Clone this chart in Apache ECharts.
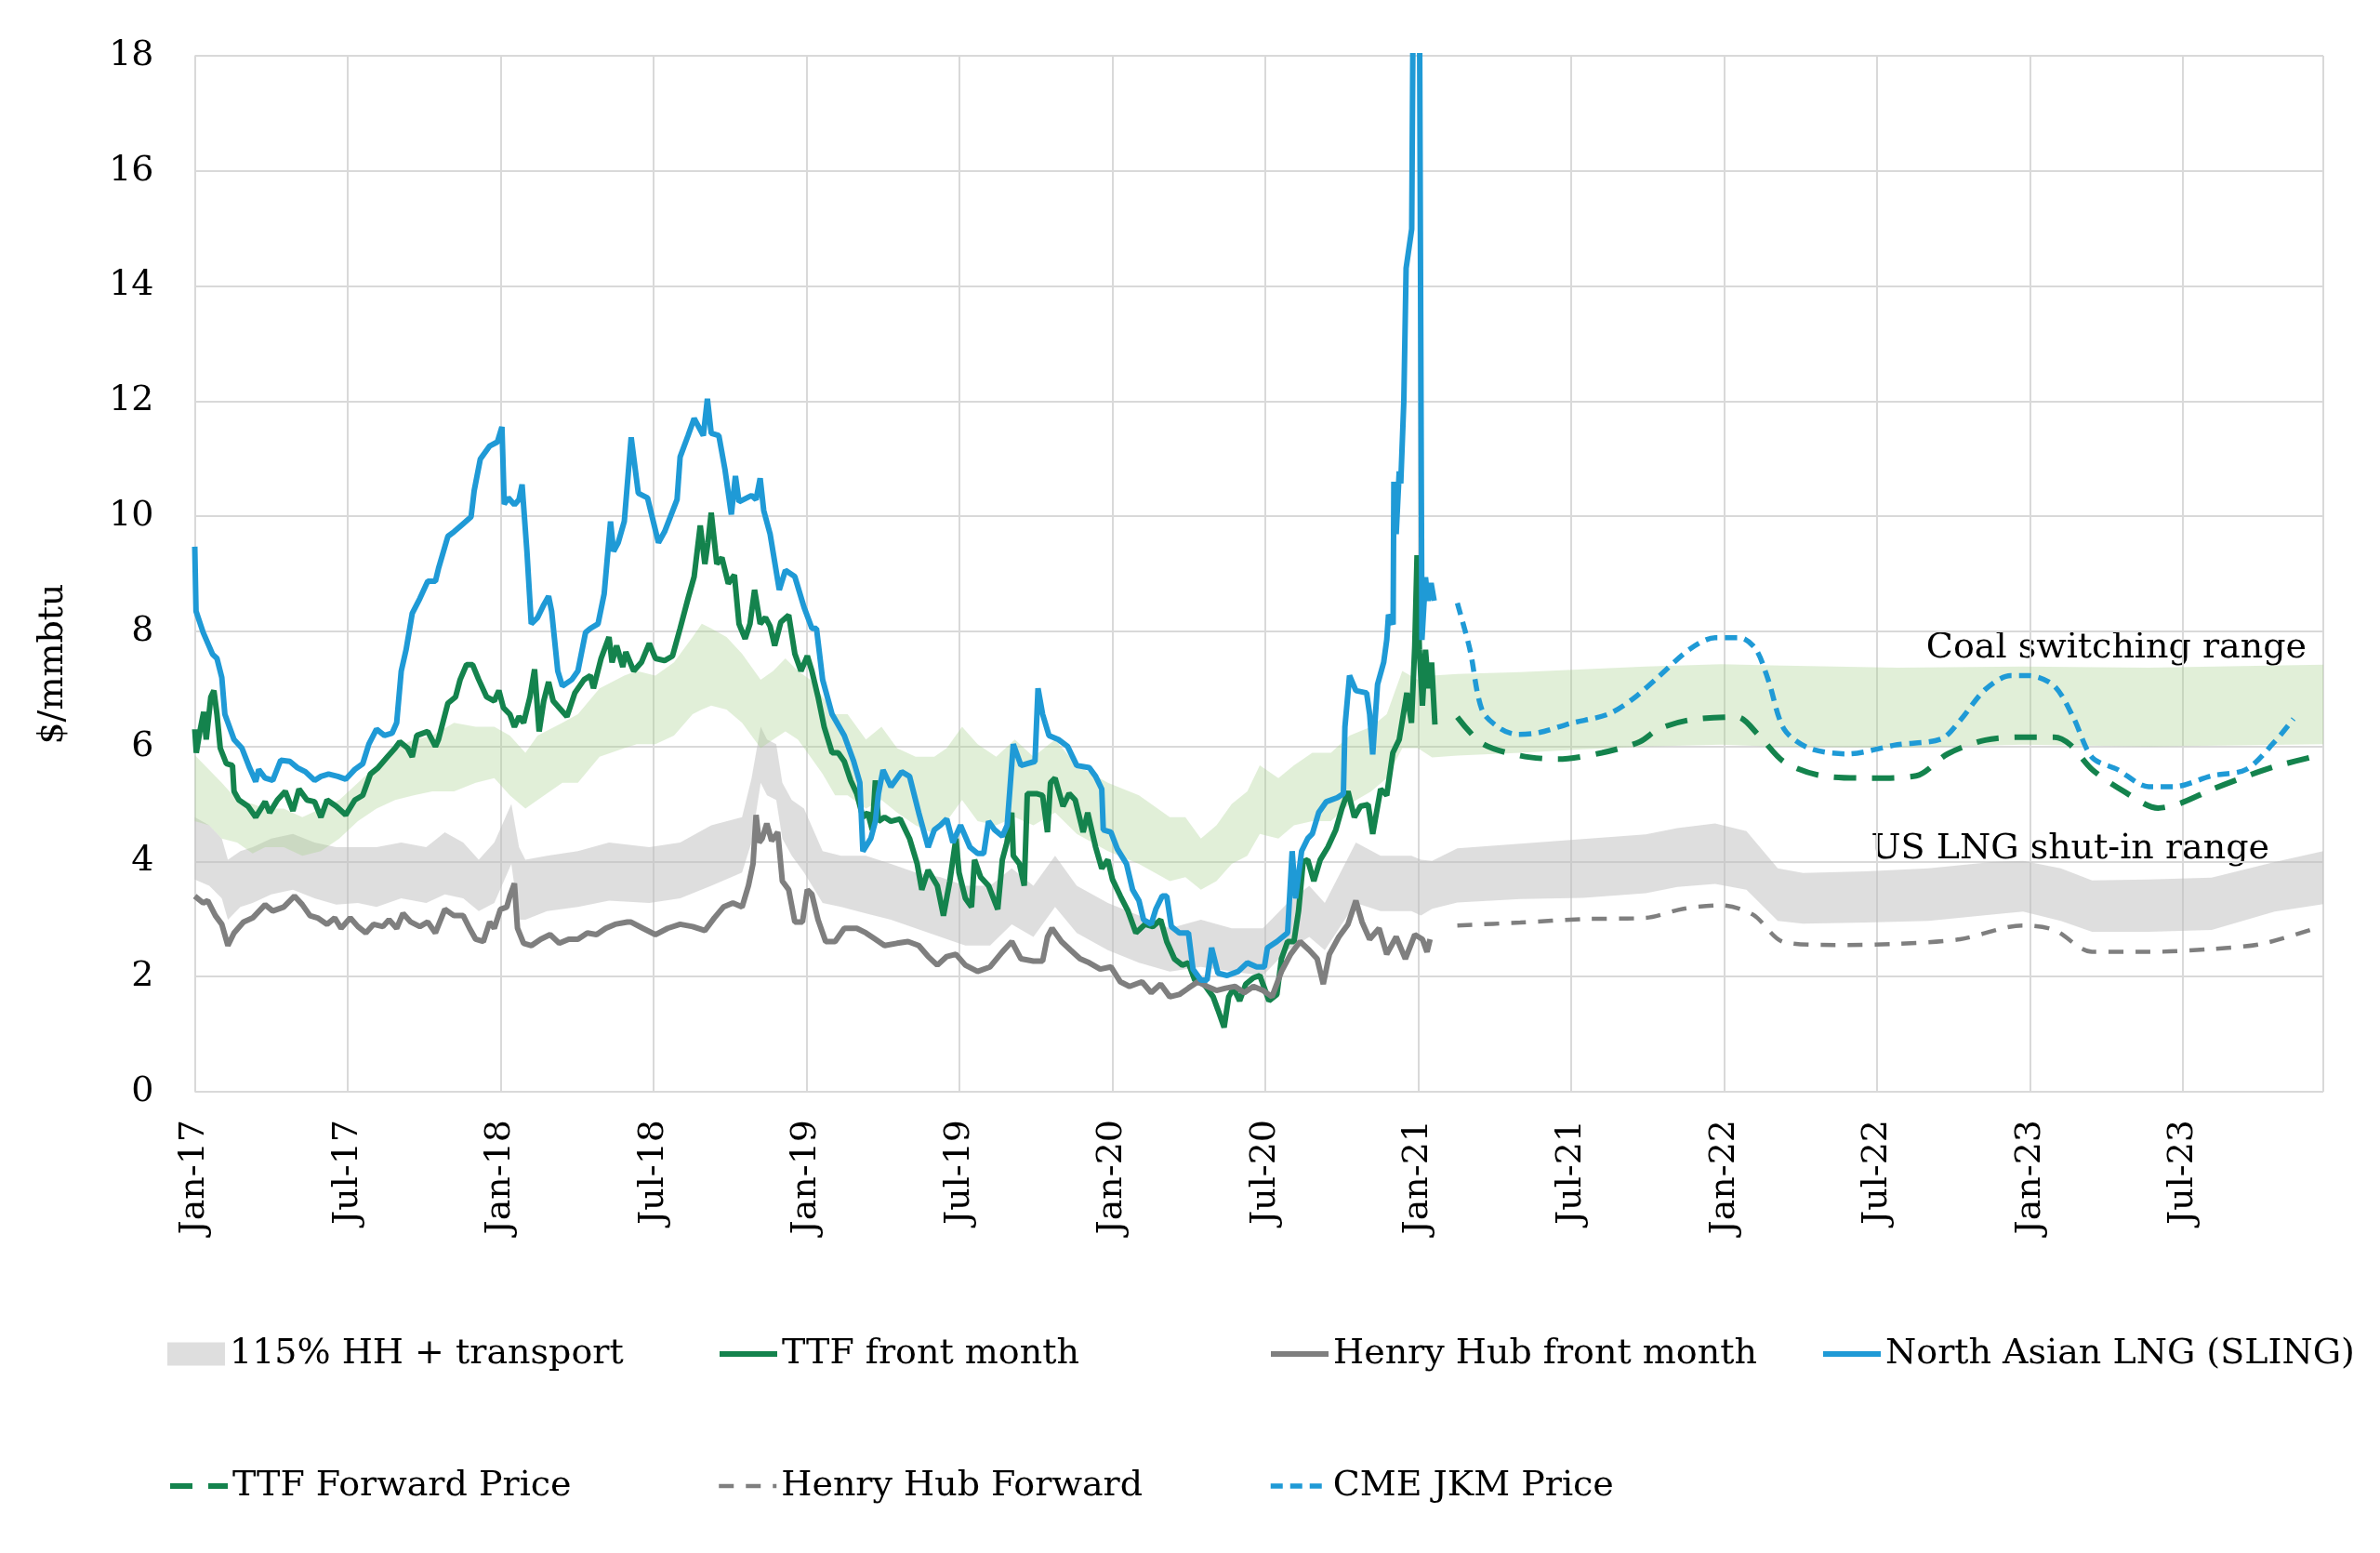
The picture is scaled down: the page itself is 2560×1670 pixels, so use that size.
<!DOCTYPE html>
<html>
<head>
<meta charset="utf-8">
<script src="https://cdn.jsdelivr.net/npm/echarts@6/dist/echarts.min.js"></script>
<style>
html,body{margin:0;padding:0;background:#fff;}
#chart{width:2560px;height:1670px;}
</style>
</head>
<body>
<div id="chart"></div>
<script>
// x values are months since Jan-2017 (0 = Jan-17)
const xTickLabels = ['Jan-17','Jul-17','Jan-18','Jul-18','Jan-19','Jul-19','Jan-20','Jul-20','Jan-21','Jul-21','Jan-22','Jul-22','Jan-23','Jul-23'];

const slingFront = [[0,9.47],[0.05,8.35],[0.33,7.98],[0.7,7.6],[0.87,7.53],[1.06,7.2],[1.18,6.56],[1.54,6.12],[1.85,5.97],[2.15,5.63],[2.39,5.39],[2.51,5.6],[2.76,5.45],[3.06,5.41],[3.37,5.76],[3.73,5.74],[4.03,5.63],[4.34,5.56],[4.7,5.41],[4.95,5.48],[5.25,5.52],[5.61,5.48],[5.92,5.43],[6.28,5.6],[6.59,5.7],[6.83,6.04],[7.13,6.3],[7.44,6.19],[7.74,6.23],[7.92,6.41],[8.1,7.31],[8.29,7.68],[8.53,8.31],[8.83,8.57],[9.14,8.87],[9.44,8.87],[9.56,9.09],[9.93,9.65],[10.17,9.73],[10.53,9.87],[10.84,9.99],[10.96,10.44],[11.2,10.99],[11.57,11.22],[11.87,11.29],[12.05,11.55],[12.14,10.21],[12.3,10.32],[12.54,10.2],[12.72,10.29],[12.84,10.55],[13.03,9.39],[13.2,8.13],[13.45,8.24],[13.69,8.46],[13.88,8.61],[14.0,8.35],[14.24,7.31],[14.42,7.05],[14.79,7.16],[15.03,7.31],[15.33,7.98],[15.52,8.05],[15.82,8.13],[16.06,8.65],[16.31,9.91],[16.43,9.39],[16.61,9.54],[16.85,9.91],[17.12,11.37],[17.4,10.4],[17.76,10.32],[18.19,9.54],[18.43,9.73],[18.92,10.29],[19.04,11.03],[19.35,11.4],[19.59,11.7],[19.95,11.4],[20.11,12.04],[20.26,11.44],[20.56,11.4],[20.8,10.81],[21.05,10.03],[21.21,10.7],[21.35,10.25],[21.84,10.36],[22.02,10.29],[22.18,10.66],[22.32,10.1],[22.57,9.69],[22.93,8.72],[23.17,9.06],[23.54,8.95],[23.9,8.42],[24.21,8.05],[24.39,8.05],[24.63,7.16],[25.0,6.56],[25.48,6.19],[25.85,5.74],[26.09,5.37],[26.21,4.18],[26.52,4.4],[26.7,4.7],[26.82,5.18],[27.0,5.59],[27.31,5.3],[27.73,5.56],[28.04,5.48],[28.4,4.85],[28.77,4.25],[29.01,4.55],[29.25,4.63],[29.5,4.74],[29.74,4.33],[30.04,4.63],[30.41,4.25],[30.71,4.14],[30.95,4.14],[31.14,4.7],[31.38,4.55],[31.68,4.44],[31.87,4.63],[32.11,6.04],[32.41,5.67],[32.96,5.74],[33.08,7.01],[33.26,6.56],[33.51,6.19],[33.88,6.12],[34.24,6.0],[34.6,5.67],[35.09,5.63],[35.34,5.48],[35.58,5.26],[35.64,4.55],[35.94,4.51],[36.19,4.22],[36.55,3.96],[36.79,3.51],[37.04,3.32],[37.22,2.99],[37.52,2.91],[37.7,3.17],[37.95,3.4],[38.13,3.4],[38.31,2.87],[38.62,2.76],[38.98,2.76],[39.16,2.13],[39.47,1.94],[39.71,1.94],[39.89,2.5],[40.14,2.06],[40.5,2.02],[40.93,2.09],[41.29,2.24],[41.66,2.17],[41.96,2.17],[42.08,2.5],[42.45,2.61],[42.87,2.76],[43.05,4.18],[43.18,3.36],[43.42,4.18],[43.66,4.4],[43.84,4.48],[44.09,4.85],[44.39,5.04],[44.82,5.11],[45.06,5.18],[45.12,6.34],[45.3,7.23],[45.55,6.97],[45.97,6.93],[46.09,6.56],[46.21,5.86],[46.4,7.08],[46.64,7.46],[46.76,7.85],[46.83,8.29],[47.01,8.12],[47.04,10.6],[47.13,9.69],[47.25,10.78],[47.31,10.57],[47.43,12.0],[47.52,14.31],[47.74,14.99],[47.95,30],[48.14,7.85],[48.28,8.94],[48.38,8.53],[48.5,8.84],[48.62,8.53]];

const ttfFront = [[0,6.3],[0.06,5.89],[0.2,6.26],[0.35,6.6],[0.45,6.12],[0.63,6.86],[0.75,6.97],[0.87,6.56],[1.0,5.97],[1.24,5.7],[1.48,5.67],[1.54,5.22],[1.73,5.07],[2.09,4.96],[2.39,4.77],[2.76,5.04],[2.94,4.85],[3.24,5.07],[3.55,5.22],[3.85,4.88],[4.09,5.26],[4.4,5.07],[4.7,5.04],[4.95,4.77],[5.19,5.07],[5.55,4.96],[5.92,4.81],[6.28,5.07],[6.59,5.15],[6.89,5.52],[7.19,5.63],[7.56,5.82],[7.86,5.97],[8.04,6.08],[8.35,5.97],[8.53,5.82],[8.71,6.19],[9.14,6.26],[9.44,6.0],[9.56,6.12],[9.93,6.75],[10.23,6.86],[10.41,7.16],[10.66,7.42],[10.9,7.42],[11.14,7.16],[11.45,6.86],[11.75,6.79],[11.93,6.97],[12.11,6.67],[12.36,6.56],[12.54,6.34],[12.72,6.52],[12.9,6.41],[13.15,6.86],[13.33,7.34],[13.51,6.26],[13.69,6.79],[13.88,7.12],[14.06,6.79],[14.3,6.67],[14.6,6.52],[14.91,6.93],[15.27,7.16],[15.52,7.23],[15.64,7.01],[15.94,7.53],[16.25,7.9],[16.37,7.46],[16.55,7.75],[16.79,7.38],[16.91,7.64],[17.22,7.31],[17.52,7.46],[17.83,7.79],[18.07,7.53],[18.43,7.49],[18.74,7.57],[19.04,8.05],[19.35,8.57],[19.59,8.95],[19.83,9.84],[20.01,9.17],[20.13,9.54],[20.26,10.06],[20.48,9.17],[20.68,9.28],[20.93,8.83],[21.17,8.98],[21.35,8.13],[21.59,7.87],[21.78,8.13],[21.96,8.72],[22.18,8.13],[22.39,8.24],[22.57,8.09],[22.75,7.75],[22.99,8.16],[23.3,8.28],[23.54,7.61],[23.78,7.31],[24.03,7.57],[24.21,7.31],[24.45,6.86],[24.69,6.34],[25.0,5.89],[25.24,5.89],[25.48,5.74],[25.73,5.41],[25.97,5.18],[26.21,4.77],[26.4,4.85],[26.58,4.55],[26.7,5.41],[26.82,4.7],[27.06,4.77],[27.31,4.7],[27.67,4.74],[28.04,4.4],[28.34,3.96],[28.52,3.51],[28.77,3.85],[29.13,3.58],[29.37,3.06],[29.62,3.66],[29.86,4.4],[29.98,3.81],[30.23,3.36],[30.47,3.21],[30.59,4.03],[30.83,3.73],[31.14,3.58],[31.5,3.17],[31.68,4.03],[31.86,4.33],[32.05,4.85],[32.11,4.1],[32.35,3.96],[32.54,3.58],[32.66,5.18],[33.02,5.18],[33.26,5.15],[33.45,4.51],[33.57,5.37],[33.75,5.45],[34.06,4.96],[34.3,5.18],[34.54,5.07],[34.85,4.51],[35.03,4.85],[35.34,4.25],[35.58,3.88],[35.82,4.03],[36.0,3.69],[36.31,3.4],[36.61,3.14],[36.92,2.76],[37.28,2.91],[37.58,2.87],[37.89,2.99],[38.13,2.61],[38.43,2.31],[38.74,2.2],[38.98,2.24],[39.23,1.94],[39.59,1.87],[39.95,1.65],[40.14,1.42],[40.38,1.12],[40.56,1.65],[40.75,1.8],[40.99,1.58],[41.23,1.87],[41.53,1.98],[41.78,2.02],[41.96,1.8],[42.14,1.58],[42.45,1.69],[42.63,2.31],[42.87,2.61],[43.12,2.61],[43.3,3.14],[43.48,4.0],[43.66,4.03],[43.9,3.66],[44.15,4.03],[44.45,4.25],[44.76,4.55],[45.0,4.92],[45.24,5.22],[45.49,4.77],[45.73,4.96],[46.03,4.99],[46.21,4.48],[46.52,5.26],[46.76,5.15],[47.0,5.89],[47.25,6.12],[47.55,6.93],[47.73,6.41],[47.86,7.75],[47.95,9.32],[48.04,7.68],[48.16,6.71],[48.28,7.68],[48.4,7.01],[48.52,7.46],[48.65,6.38]];

const henryHubFront = [[0,3.4],[0.33,3.28],[0.51,3.32],[0.81,3.06],[1.06,2.91],[1.3,2.54],[1.54,2.76],[1.91,2.95],[2.27,3.02],[2.76,3.25],[3.06,3.14],[3.49,3.21],[3.91,3.4],[4.22,3.25],[4.52,3.06],[4.82,3.02],[5.19,2.91],[5.49,3.02],[5.74,2.84],[6.1,3.02],[6.4,2.87],[6.71,2.76],[7.01,2.91],[7.38,2.87],[7.62,2.99],[7.92,2.84],[8.17,3.1],[8.47,2.95],[8.83,2.87],[9.14,2.95],[9.44,2.76],[9.81,3.17],[10.17,3.06],[10.53,3.06],[10.78,2.84],[11.02,2.65],[11.32,2.61],[11.57,2.95],[11.75,2.84],[11.99,3.17],[12.24,3.21],[12.36,3.4],[12.54,3.62],[12.66,2.84],[12.9,2.58],[13.21,2.54],[13.57,2.65],[13.94,2.73],[14.3,2.58],[14.67,2.65],[15.03,2.65],[15.4,2.76],[15.76,2.73],[16.12,2.84],[16.49,2.91],[16.97,2.95],[17.1,2.95],[17.58,2.84],[18.07,2.73],[18.55,2.84],[19.04,2.91],[19.53,2.87],[20.01,2.8],[20.38,3.02],[20.74,3.21],[21.11,3.28],[21.47,3.21],[21.72,3.58],[21.9,3.96],[22.02,4.81],[22.14,4.33],[22.26,4.4],[22.44,4.66],[22.63,4.36],[22.87,4.51],[23.05,3.66],[23.3,3.51],[23.54,2.95],[23.84,2.95],[24.03,3.51],[24.21,3.43],[24.45,2.99],[24.75,2.61],[25.12,2.61],[25.48,2.84],[25.97,2.84],[26.33,2.76],[26.7,2.65],[27.06,2.54],[27.55,2.58],[27.98,2.61],[28.4,2.54],[28.77,2.35],[29.13,2.2],[29.5,2.35],[29.86,2.39],[30.23,2.2],[30.71,2.09],[31.2,2.17],[31.68,2.43],[32.05,2.61],[32.41,2.31],[32.9,2.27],[33.26,2.27],[33.45,2.69],[33.63,2.84],[34.0,2.61],[34.36,2.46],[34.73,2.31],[35.09,2.24],[35.52,2.13],[35.94,2.17],[36.31,1.91],[36.67,1.83],[37.16,1.91],[37.52,1.72],[37.89,1.87],[38.25,1.65],[38.62,1.69],[38.98,1.8],[39.35,1.91],[39.71,1.83],[40.08,1.76],[40.44,1.8],[40.81,1.83],[41.17,1.72],[41.53,1.83],[41.9,1.76],[42.26,1.65],[42.63,2.09],[42.99,2.39],[43.36,2.61],[43.72,2.46],[44.03,2.31],[44.27,1.87],[44.51,2.39],[44.88,2.69],[45.24,2.91],[45.55,3.32],[45.79,2.95],[46.09,2.65],[46.46,2.84],[46.76,2.39],[47.13,2.69],[47.49,2.31],[47.86,2.73],[48.16,2.65],[48.34,2.43],[48.46,2.65]];

const ttfForward = [[49.53,6.51],[50.51,6.05],[52.0,5.84],[53.47,5.78],[55.2,5.89],[56.68,6.08],[57.42,6.3],[58.65,6.46],[60.5,6.51],[61.36,6.19],[62.35,5.73],[63.83,5.49],[65.8,5.45],[67.53,5.49],[68.76,5.87],[70.24,6.11],[71.72,6.16],[72.95,6.16],[73.57,6.03],[74.43,5.6],[75.67,5.22],[77.02,4.93],[77.88,5.01],[79.12,5.25],[80.35,5.46],[81.59,5.65],[83.5,5.86]];

const henryHubForward = [[49.53,2.89],[52.0,2.94],[54.46,3.0],[56.92,3.02],[58.4,3.18],[59.88,3.24],[61.12,3.08],[62.35,2.6],[64.32,2.55],[66.79,2.57],[69.25,2.65],[71.72,2.89],[72.95,2.81],[74.43,2.43],[76.65,2.43],[79.12,2.48],[81.09,2.57],[83.19,2.84]];

const jkmForward = [[49.53,8.49],[50.02,7.69],[50.51,6.62],[51.25,6.3],[51.87,6.21],[52.73,6.24],[53.97,6.4],[55.44,6.56],[56.43,6.83],[57.42,7.21],[58.65,7.69],[59.64,7.89],[60.62,7.89],[61.24,7.69],[61.73,7.15],[62.35,6.3],[63.33,5.97],[64.82,5.87],[66.79,6.03],[68.51,6.13],[69.25,6.45],[70.24,6.99],[71.23,7.23],[71.97,7.23],[72.95,7.05],[73.69,6.51],[74.43,5.81],[75.42,5.6],[76.65,5.3],[77.64,5.3],[79.12,5.49],[80.48,5.6],[81.59,6.08],[82.33,6.48]];

// 115% HH + transport (US LNG shut-in range): months, low edge, high edge
const hhBandMonths = [0,0.57,1.06,1.3,1.79,2.27,3.0,3.85,4.7,5.55,6.4,7.13,8.1,9.08,9.81,10.53,11.14,11.75,12.42,12.72,12.97,13.82,15.03,16.25,17.83,19.04,20.26,21.47,21.84,22.2,22.45,22.81,23.05,23.42,23.9,24.63,25.36,26.33,27.31,28.28,29.25,30.23,31.2,32.05,32.9,33.75,34.6,35.82,37.04,38.25,39.47,40.68,41.9,42.87,43.72,44.33,45.55,46.52,47.73,48.1,48.54,49.53,52.0,54.46,56.92,58.16,59.64,60.87,62.1,63.09,65.56,68.02,70.49,71.72,73.2,74.43,76.65,79.12,81.59,83.5];
const hhBandHigh = [4.77,4.63,4.4,4.03,4.18,4.25,4.4,4.48,4.33,4.25,4.25,4.25,4.33,4.25,4.51,4.33,4.03,4.33,5.0,4.25,4.03,4.1,4.18,4.33,4.25,4.33,4.63,4.77,5.44,6.34,6.12,6.04,5.37,5.07,4.92,4.18,4.1,4.1,3.96,3.81,3.73,3.58,3.58,3.88,3.58,4.1,3.58,3.28,3.06,2.84,2.99,2.84,2.84,3.28,3.58,3.28,4.33,4.1,4.1,4.03,4.01,4.23,4.31,4.39,4.47,4.58,4.66,4.53,3.88,3.8,3.83,3.88,3.99,4.01,3.88,3.67,3.69,3.72,3.99,4.18];
const hhBandLow = [3.69,3.58,3.36,2.99,3.21,3.28,3.43,3.51,3.36,3.25,3.28,3.21,3.36,3.28,3.43,3.36,3.14,3.28,3.96,2.99,2.99,3.14,3.21,3.32,3.28,3.36,3.58,3.81,4.33,5.37,5.15,5.07,4.4,4.1,3.81,3.28,3.21,3.1,2.99,2.84,2.69,2.54,2.54,2.91,2.69,3.21,2.76,2.46,2.24,2.09,2.17,2.09,2.02,2.46,2.69,2.46,3.28,3.14,3.14,3.06,3.18,3.29,3.35,3.37,3.45,3.56,3.61,3.51,2.97,2.92,2.94,2.97,3.08,3.13,2.97,2.78,2.78,2.81,3.13,3.26];

// Coal switching range: months, low edge, high edge
const coalBandMonths = [0,0.57,1.06,1.66,2.27,2.76,3.49,4.22,4.95,5.67,6.4,7.13,7.86,8.59,9.32,10.17,11.02,11.75,12.36,12.97,13.45,14.42,15.03,15.88,16.85,17.34,18.07,18.8,19.53,19.89,20.26,20.86,21.47,22.2,22.69,23.17,23.66,24.15,24.63,25.12,25.61,26.33,26.94,27.55,28.28,29.01,29.5,30.1,30.71,31.44,32.17,32.9,33.75,34.6,35.82,37.04,38.25,38.86,39.47,40.08,40.68,41.29,41.78,42.51,43.12,43.84,44.57,45.3,46.15,46.76,47.37,47.98,48.54,49.53,52.0,54.46,56.92,59.88,61.85,66.79,71.72,76.65,83.5];
const coalBandHigh = [5.85,5.59,5.37,5.07,5.0,4.92,4.92,4.77,4.92,5.07,5.37,5.67,5.97,6.12,6.19,6.41,6.34,6.34,6.19,5.89,6.19,6.41,6.56,7.01,7.23,7.31,7.23,7.46,7.9,8.13,8.05,7.9,7.61,7.16,7.31,7.53,7.31,7.16,6.86,6.56,6.56,6.12,6.34,5.97,5.82,5.82,5.97,6.34,6.04,5.82,6.12,5.82,6.12,5.67,5.37,5.15,4.77,4.77,4.4,4.63,5.0,5.22,5.67,5.45,5.67,5.89,5.89,6.19,6.34,6.56,7.31,7.16,7.23,7.26,7.29,7.34,7.39,7.43,7.41,7.37,7.39,7.37,7.42];
const coalBandLow = [4.7,4.63,4.4,4.33,4.14,4.25,4.25,4.1,4.18,4.4,4.7,4.92,5.07,5.15,5.22,5.22,5.37,5.45,5.15,4.92,5.07,5.37,5.37,5.82,5.97,6.04,6.04,6.19,6.56,6.64,6.71,6.64,6.41,5.97,6.12,6.26,6.12,5.82,5.52,5.15,5.15,4.92,5.07,4.85,4.63,4.48,4.7,5.07,4.7,4.63,4.77,4.63,4.85,4.48,4.18,3.96,3.66,3.73,3.51,3.66,3.96,4.1,4.48,4.4,4.63,4.7,4.7,5.0,5.22,5.45,5.97,5.97,5.81,5.84,5.89,5.95,6.0,6.03,6.0,5.98,6.03,6.0,6.04];

const FONT = 'DejaVu Serif';
const C_TTF = '#14834d', C_HH = '#7f7f7f', C_SLING = '#1f9ad6';
const C_HHBAND = 'rgba(190,190,190,0.5)', C_COAL = 'rgba(169,208,142,0.35)';

function bandSeries(name, months, low, high, fill, z) {
  return {
    name: name, type: 'custom', z: z, silent: true,
    itemStyle: { color: fill },
    data: months.map((m, i) => [m, low[i], high[i]]),
    encode: { x: 0, y: [1, 2] },
    renderItem: function (params, api) {
      if (params.dataIndex !== 0) return null;
      const pts = [];
      for (let i = 0; i < months.length; i++) pts.push(api.coord([months[i], high[i]]));
      for (let i = months.length - 1; i >= 0; i--) pts.push(api.coord([months[i], low[i]]));
      return { type: 'polygon', shape: { points: pts }, style: { fill: fill } };
    }
  };
}

const chart = echarts.init(document.getElementById('chart'), null, { renderer: 'canvas', width: 2560, height: 1670 });

const legendText = { fontFamily: FONT, fontSize: 38, color: '#000', lineHeight: 40 };
function legendAt(name, left, top, lineWidth, extra) {
  return Object.assign({
    data: [name], left: left, top: top, padding: 0, itemGap: 0,
    itemWidth: 62, itemHeight: 25, selectedMode: false, textStyle: legendText,
    itemStyle: { color: 'rgba(0,0,0,0)', borderWidth: 0, opacity: 0 },
    lineStyle: { width: lineWidth }
  }, extra || {});
}

const LW = 6;
const option = {
  backgroundColor: '#fff',
  animation: false,
  grid: { left: 209.5, right: 61, top: 60, bottom: 496, containLabel: false, outerBoundsMode: 'none' },
  xAxis: {
    type: 'value', min: 0, max: 83.5, interval: 6,
    axisLine: { show: false }, axisTick: { show: false },
    splitLine: { show: true, lineStyle: { color: '#d9d9d9', width: 2 } },
    axisLabel: {
      rotate: 90, margin: 30, fontFamily: FONT, fontSize: 38, color: '#000',
      formatter: function (v) {
        const i = Math.round(v / 6);
        return Math.abs(v - i * 6) < 1e-6 ? (xTickLabels[i] || '') : '';
      }
    }
  },
  yAxis: {
    type: 'value', min: 0, max: 18, interval: 2,
    axisLine: { show: false }, axisTick: { show: false },
    splitLine: { show: true, lineStyle: { color: '#d9d9d9', width: 2 } },
    axisLabel: { margin: 44, fontFamily: FONT, fontSize: 38, color: '#000' }
  },
  legend: [
    legendAt('115% HH + transport', 180, 1436, 0, {
      data: [{ name: '115% HH + transport', icon: 'rect' }],
      itemStyle: { color: '#dedede', opacity: 1 }
    }),
    legendAt('TTF front month', 771, 1436, 6),
    legendAt('Henry Hub front month', 1364, 1436, 6),
    legendAt('North Asian LNG (SLING)', 1958, 1436, 6),
    legendAt('TTF Forward Price', 180, 1578, 6),
    legendAt('Henry Hub Forward', 771, 1578, 4.5),
    legendAt('CME JKM Price', 1364, 1578, 5.5)
  ],
  graphic: [
    { type: 'text', x: 57, y: 714, rotation: Math.PI / 2,
      style: { text: '$/mmbtu', font: '38px "DejaVu Serif"', fill: '#000', align: 'center', verticalAlign: 'middle' } },
    { type: 'text', x: 2481, y: 697,
      style: { text: 'Coal switching range', font: '38px "DejaVu Serif"', fill: '#000', align: 'right', verticalAlign: 'middle' } },
    { type: 'text', x: 2441, y: 913,
      style: { text: 'US LNG shut-in range', font: '38px "DejaVu Serif"', fill: '#000', align: 'right', verticalAlign: 'middle' } }
  ],
  series: [
    bandSeries('115% HH + transport', hhBandMonths, hhBandLow, hhBandHigh, C_HHBAND, 1),
    bandSeries('Coal switching range', coalBandMonths, coalBandLow, coalBandHigh, C_COAL, 2),
    { name: 'TTF front month', type: 'line', data: ttfFront, symbol: 'none', z: 3,
      lineStyle: { color: C_TTF, width: LW }, itemStyle: { color: C_TTF } },
    { name: 'Henry Hub front month', type: 'line', data: henryHubFront, symbol: 'none', z: 3,
      lineStyle: { color: C_HH, width: LW }, itemStyle: { color: C_HH } },
    { name: 'North Asian LNG (SLING)', type: 'line', data: slingFront, symbol: 'none', z: 4, clip: true,
      lineStyle: { color: C_SLING, width: LW }, itemStyle: { color: C_SLING } },
    { name: 'TTF Forward Price', type: 'line', data: ttfForward, symbol: 'none', smooth: 0.3, z: 4,
      lineStyle: { color: C_TTF, width: 6, type: [24, 17] }, itemStyle: { color: C_TTF } },
    { name: 'Henry Hub Forward', type: 'line', data: henryHubForward, symbol: 'none', smooth: 0.3, z: 4,
      lineStyle: { color: C_HH, width: 4.5, type: [16, 13] }, itemStyle: { color: C_HH } },
    { name: 'CME JKM Price', type: 'line', data: jkmForward, symbol: 'none', smooth: 0.3, z: 4,
      lineStyle: { color: C_SLING, width: 5.5, type: [13, 8] }, itemStyle: { color: C_SLING } }
  ]
};
chart.setOption(option);
</script>
</body>
</html>
